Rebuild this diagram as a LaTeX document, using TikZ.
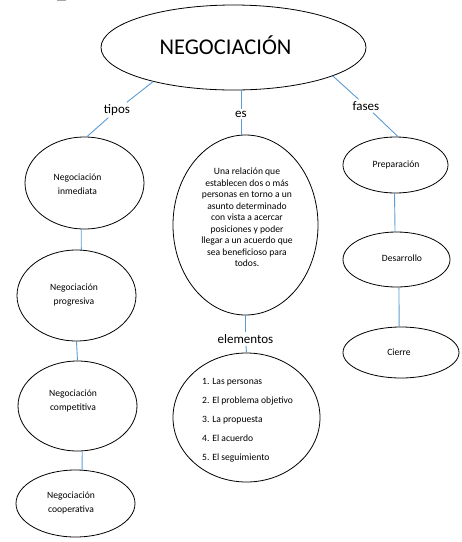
\documentclass[tikz,border=0pt]{standalone}
\usepackage{fontspec}
\setmainfont{Carlito}
\usetikzlibrary{shapes.geometric}
\definecolor{linkblue}{HTML}{5B9BD5}
\tikzset{
  oval/.style={ellipse, draw=black, line width=0.8pt, inner sep=0pt},
  conn/.style={draw=linkblue, line width=0.9pt},
  small/.style={font=\fontsize{9.6}{14}\selectfont, align=center, inner sep=0pt},
  lab/.style={font=\fontsize{13}{15}\selectfont, inner sep=2pt},
}
\begin{document}
\begin{tikzpicture}[x=1pt,y=-1pt]
\useasboundingbox (0,0) rectangle (462,542);
\fill[gray!70] (57,0) rectangle (66,1.3);

% title
\node[oval, minimum width=265, minimum height=85] (title) at (233.5,47.5) {};
\node[font=\fontsize{22.5}{26}\selectfont, inner sep=0pt] (titleT) at (225.5,45) {NEGOCIACIÓN};

% labels
\node[lab] (tipos) at (117,110) {tipos};
\node[lab] (es) at (241,114) {es};
\node[lab] (fases) at (366,106) {fases};
\node[lab] (elem) at (245.5,339) {elementos};

% left column
\node[oval, minimum width=119, minimum height=92] (inm) at (84.5,183) {};
\node[small] (inmT) at (77.5,184) {Negociación\\inmediata};
\node[oval, minimum width=119, minimum height=91] (prog) at (76.5,295.5) {};
\node[small] (progT) at (74,295) {Negociación\\progresiva};
\node[oval, minimum width=119, minimum height=90] (comp) at (77.5,406) {};
\node[small] (compT) at (73,400.5) {Negociación\\competitiva};
\node[oval, minimum width=119, minimum height=67] (coop) at (75.5,503.5) {};
\node[small] (coopT) at (71,502.5) {Negociación\\cooperativa};

% centre column
\node[oval, minimum width=145, minimum height=180] (desc) at (245.5,225) {};
\node[small, font=\fontsize{9.6}{11.5}\selectfont] (descT) at (247,217.5) {Una relación que\\establecen dos o más\\personas en torno a un\\asunto determinado\\con vista a acercar\\posiciones y poder\\llegar a un acuerdo que\\sea beneficioso para\\todos.};
\node[oval, minimum width=147, minimum height=129] (elems) at (246.5,417.5) {};
\node[small, font=\fontsize{9.6}{19}\selectfont, align=left, anchor=west] (elemsT) at (202,420) {1. Las personas\\2. El problema objetivo\\3. La propuesta\\4. El acuerdo\\5. El seguimiento};

% right column
\node[oval, minimum width=105, minimum height=56] (prep) at (395.5,165) {};
\node[small] (prepT) at (396,164.5) {Preparación};
\node[oval, minimum width=107, minimum height=55] (des) at (396.5,259.5) {};
\node[small] (desT) at (402,258) {Desarrollo};
\node[oval, minimum width=116, minimum height=51] (cierre) at (401,352.5) {};
\node[small] (cierreT) at (399,352.5) {Cierre};

% connectors
\draw[conn] (title.203) -- (tipos) -- (inm.87);
\draw[conn] (title.344) -- (fases) -- (prep.85);
\draw[conn] (es |- title.south) -- (es) -- (es |- desc.north);
\draw[conn] (desc.south) -- (elem) -- (elems.north);
\draw[conn] (inm.266) -- (prog.84);
\draw[conn] (prog.south) -- (comp.north);
\draw[conn] (comp.276) -- (coop.79);
\draw[conn] (prep.268) -- (des.93);
\draw[conn] (des.275) -- (cierre.94.5);
\end{tikzpicture}
\end{document}
